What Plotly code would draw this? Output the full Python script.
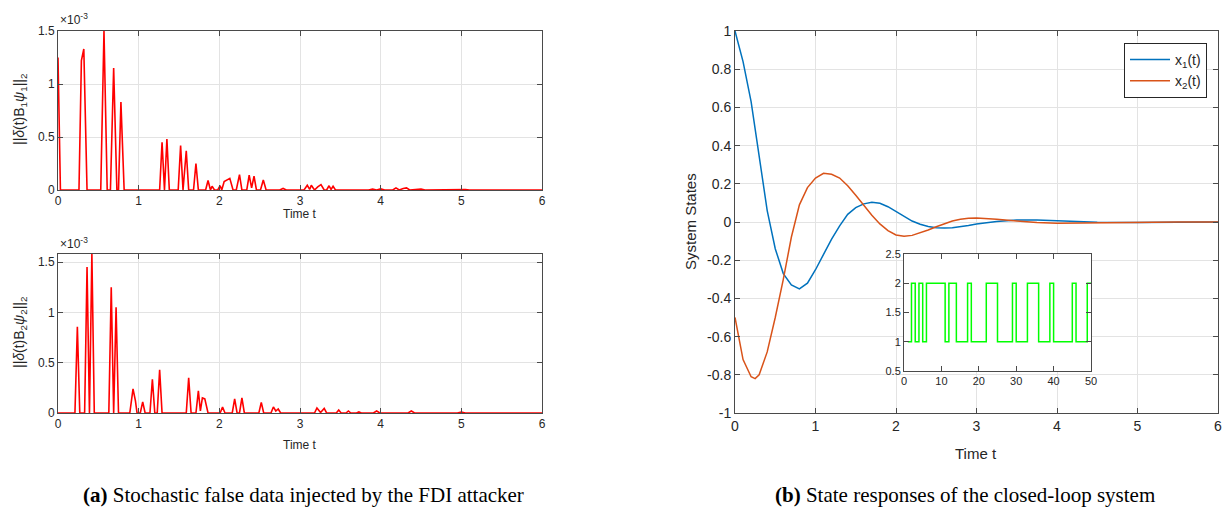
import plotly.graph_objects as go

W, H = 1224, 514

# ---------------- data ----------------
# (a) top: ||delta(t) B1 psi1||_2  (units of 1e-3)
t_psi1 = [0, 0.03, 0.26, 0.29, 0.32, 0.36, 0.53, 0.57, 0.61, 0.65, 0.69, 0.73, 0.75, 0.78, 0.82,
          1.26, 1.29, 1.32, 1.35, 1.38, 1.49, 1.52, 1.55, 1.59, 1.62, 1.68, 1.71, 1.74,
          1.83, 1.86, 1.89, 1.91, 1.94, 1.98, 2.01, 2.03, 2.06, 2.10, 2.13, 2.17,
          2.21, 2.25, 2.28, 2.34, 2.37, 2.40, 2.43, 2.46, 2.51, 2.545, 2.58,
          2.75, 2.79, 2.83, 3.05, 3.09, 3.12, 3.14, 3.18, 3.22, 3.26, 3.30, 3.33, 3.36, 3.385, 3.41, 3.44,
          3.85, 3.90, 3.95, 4.00, 4.05, 4.15, 4.19, 4.23, 4.28, 4.32, 4.36, 4.50, 4.55, 4.80, 4.90,
          5.05, 5.10, 6.0]
v_psi1 = [1.25, 0, 0, 1.22, 1.33, 0, 0, 1.5, 0, 0, 1.15, 0, 0, 0.83, 0,
          0, 0.45, 0, 0.48, 0, 0, 0.42, 0, 0.37, 0, 0, 0.25, 0,
          0, 0.09, 0, 0.035, 0, 0, 0.04, 0, 0.08, 0.10, 0.11, 0,
          0, 0.145, 0, 0, 0.14, 0.02, 0.13, 0, 0, 0.094, 0,
          0, 0.015, 0, 0, 0.045, 0.005, 0.045, 0, 0.03, 0.05, 0, 0, 0.04, 0.005, 0.035, 0,
          0, 0.008, 0, 0.01, 0, 0, 0.02, 0, 0.015, 0.02, 0, 0.008, 0, 0.005, 0,
          0.005, 0, 0]

# (a) bottom: ||delta(t) B2 psi2||_2  (units of 1e-3)
t_psi2 = [0, 0.21, 0.24, 0.27, 0.33, 0.36, 0.39, 0.42, 0.45, 0.63, 0.66, 0.69, 0.72, 0.75,
          0.89, 0.93, 0.96, 0.98, 1.02, 1.05, 1.08, 1.14, 1.17, 1.20, 1.23, 1.26, 1.29,
          1.59, 1.62, 1.65, 1.71, 1.74, 1.765, 1.79, 1.82, 1.86, 2.01, 2.04, 2.07,
          2.16, 2.19, 2.22, 2.25, 2.28, 2.31, 2.49, 2.52, 2.55, 2.64, 2.67, 2.70, 2.73, 2.76,
          3.18, 3.21, 3.255, 3.30, 3.33, 3.45, 3.48, 3.51, 3.57, 3.60, 3.63, 3.70, 3.73, 3.76,
          3.91, 3.95, 3.99, 4.34, 4.38, 4.42, 4.95, 5.00, 5.05, 6.0]
v_psi2 = [0, 0, 0.856, 0, 0, 1.45, 0, 1.58, 0, 0, 1.25, 0, 1.05, 0,
          0, 0.24, 0.12, 0, 0, 0.11, 0, 0, 0.335, 0, 0, 0.43, 0,
          0, 0.35, 0, 0, 0.22, 0.02, 0.15, 0.14, 0, 0, 0.06, 0,
          0, 0.14, 0, 0, 0.15, 0, 0, 0.105, 0, 0, 0.06, 0.02, 0.04, 0,
          0, 0.05, 0.005, 0.045, 0, 0, 0.03, 0, 0, 0.02, 0, 0, 0.01, 0,
          0, 0.02, 0, 0, 0.02, 0, 0, 0.008, 0, 0]

# (b) state responses
t_state = [0, 0.1, 0.2, 0.25, 0.3, 0.4, 0.5, 0.6, 0.7, 0.8, 0.9, 1.0, 1.1, 1.2, 1.3, 1.4, 1.5,
           1.6, 1.7, 1.8, 1.9, 2.0, 2.1, 2.2, 2.3, 2.4, 2.5, 2.6, 2.7, 2.8, 2.9, 3.0,
           3.25, 3.5, 3.75, 4.0, 4.25, 4.5, 5.0, 5.5, 6.0]
x1 = [1.0, 0.84, 0.63, 0.49, 0.34, 0.06, -0.14, -0.27, -0.33, -0.35, -0.32, -0.25, -0.17, -0.09,
      -0.02, 0.04, 0.075, 0.095, 0.103, 0.098, 0.08, 0.055, 0.03, 0.005, -0.012, -0.024, -0.03,
      -0.032, -0.03, -0.025, -0.018, -0.01, 0.003, 0.01, 0.01, 0.006, 0.002, -0.001, -0.002, 0, 0]
x2 = [-0.5, -0.72, -0.81, -0.82, -0.80, -0.68, -0.5, -0.3, -0.08, 0.09, 0.18, 0.23, 0.255, 0.25,
      0.23, 0.19, 0.14, 0.085, 0.035, -0.01, -0.045, -0.068, -0.075, -0.07, -0.058, -0.042,
      -0.025, -0.01, 0.005, 0.014, 0.02, 0.021, 0.015, 0.005, -0.003, -0.006, -0.005, -0.002,
      0.001, 0, 0]

# inset: switching signal r(k)
k_mode = list(range(1, 51))
r_mode = [1, 2, 1, 2, 1, 2, 2, 2, 2, 2, 1, 2, 2, 1, 1, 1, 2, 1, 1, 1, 1, 2, 2, 2, 1, 1, 1, 1,
          2, 1, 1, 1, 2, 2, 2, 1, 1, 1, 2, 1, 1, 1, 1, 1, 2, 1, 1, 1, 2, 2]

left_yticks = [0, 0.5, 1, 1.5]
left_yticklabels = ["0", "0.5", "1", "1.5"]
right_yticks = [-1, -0.8, -0.6, -0.4, -0.2, 0, 0.2, 0.4, 0.6, 0.8, 1]
right_yticklabels = ["-1", "-0.8", "-0.6", "-0.4", "-0.2", "0", "0.2", "0.4", "0.6", "0.8", "1"]
time_ticks = [0, 1, 2, 3, 4, 5, 6]

# ---------------- layout helpers ----------------
def px_x(p):
    return p / W

def px_y(p):
    return 1 - p / H

AX = "#4a4a4a"
GRID = "#e3e3e3"
TXT = "#262626"
SANS = "Liberation Sans, Arial, sans-serif"

def axis(domain, rng, ticks, size, grid=True, ticktext=None, anchor=None):
    d = dict(domain=domain, range=rng, showline=True, linecolor=AX, linewidth=1,
             mirror="ticks", ticks="inside", ticklen=5, tickcolor=AX, tickwidth=1,
             showgrid=grid, gridcolor=GRID, gridwidth=1, zeroline=False,
             tickvals=ticks, tickfont=dict(family=SANS, size=size, color=TXT),
             fixedrange=True, anchor=anchor, automargin=False)
    if ticktext is not None:
        d["ticktext"] = ticktext
    return d

fig = go.Figure()

fig.add_trace(go.Scatter(x=t_psi1, y=v_psi1, mode="lines", line=dict(color="#ff0000", width=1.6),
                         xaxis="x", yaxis="y", showlegend=False))
fig.add_trace(go.Scatter(x=t_psi2, y=v_psi2, mode="lines", line=dict(color="#ff0000", width=1.6),
                         xaxis="x2", yaxis="y2", showlegend=False))
fig.add_trace(go.Scatter(x=t_state, y=x1, mode="lines", line=dict(color="#0072BD", width=1.5),
                         xaxis="x3", yaxis="y3", name="x<sub>1</sub>(t)"))
fig.add_trace(go.Scatter(x=t_state, y=x2, mode="lines", line=dict(color="#D95319", width=1.5),
                         xaxis="x3", yaxis="y3", name="x<sub>2</sub>(t)"))
fig.add_trace(go.Scatter(x=k_mode, y=r_mode, mode="lines", line=dict(color="#00ff00", width=1.5, shape="hv"),
                         xaxis="x4", yaxis="y4", showlegend=False))

left_dom = [px_x(58), px_x(542)]
fig.update_layout(
    template="none",
    autosize=False,
    width=W, height=H, margin=dict(l=0, r=0, t=0, b=0, pad=0, autoexpand=False),
    paper_bgcolor="white", plot_bgcolor="white",
    xaxis=axis(left_dom, [0, 6], time_ticks, 12, anchor="y"),
    yaxis=axis([px_y(190), px_y(31)], [0, 1.5], left_yticks, 12, ticktext=left_yticklabels, anchor="x"),
    xaxis2=axis(left_dom, [0, 6], time_ticks, 12, anchor="y2"),
    yaxis2=axis([px_y(413), px_y(254)], [0, 1.58], left_yticks, 12, ticktext=left_yticklabels, anchor="x2"),
    xaxis3=axis([px_x(735), px_x(1218)], [0, 6], time_ticks, 14, anchor="y3"),
    yaxis3=axis([px_y(413), px_y(31)], [-1, 1], right_yticks, 14, ticktext=right_yticklabels, anchor="x3"),
    xaxis4=axis([px_x(904), px_x(1091)], [0, 50], [0, 10, 20, 30, 40, 50], 11, grid=False, anchor="y4"),
    yaxis4=axis([px_y(371), px_y(254)], [0.5, 2.5], [0.5, 1, 1.5, 2, 2.5], 11, grid=False,
                ticktext=["0.5", "1", "1.5", "2", "2.5"], anchor="x4"),
    legend=dict(x=px_x(1207), xanchor="right", y=px_y(43), yanchor="top",
                bgcolor="white", bordercolor="#262626", borderwidth=1, itemwidth=40,
                font=dict(family=SANS, size=14, color=TXT), tracegroupgap=2),
    showlegend=True,
)

ann = []
def add_text(text, x, y, size, angle=0, family=SANS, xanchor="center", color=TXT):
    ann.append(dict(text=text, x=px_x(x), y=px_y(y), xref="paper", yref="paper",
                    showarrow=False, textangle=angle, xanchor=xanchor, yanchor="middle",
                    font=dict(family=family, size=size, color=color)))

add_text("×10<sup>-3</sup>", 58, 19, 12, xanchor="left")
add_text("×10<sup>-3</sup>", 58, 243, 12, xanchor="left")
add_text("Time t", 300, 214, 12)
add_text("Time t", 300, 445, 12)
add_text("Time t", 976, 453, 15)
add_text("||<i>δ</i>(t)B<sub>1</sub><i>ψ</i><sub>1</sub>||<sub>2</sub>", 20, 110, 14, angle=-90)
add_text("||<i>δ</i>(t)B<sub>2</sub><i>ψ</i><sub>2</sub>||<sub>2</sub>", 20, 333, 14, angle=-90)
add_text("System States", 690, 222, 15, angle=-90)
add_text("<b>(a)</b> Stochastic false data injected by the FDI attacker", 303, 495, 21,
         family="Liberation Serif, Times New Roman, serif", color="black")
add_text("<b>(b)</b> State responses of the closed-loop system", 965, 495, 21,
         family="Liberation Serif, Times New Roman, serif", color="black")
fig.update_layout(annotations=ann)

# remove the browser's default 8px page margin so the figure sits at the window origin
fig.write_html("out.html", config={"displayModeBar": False, "staticPlot": True},
               post_script="document.body.style.margin='0';document.body.style.overflow='hidden';")
